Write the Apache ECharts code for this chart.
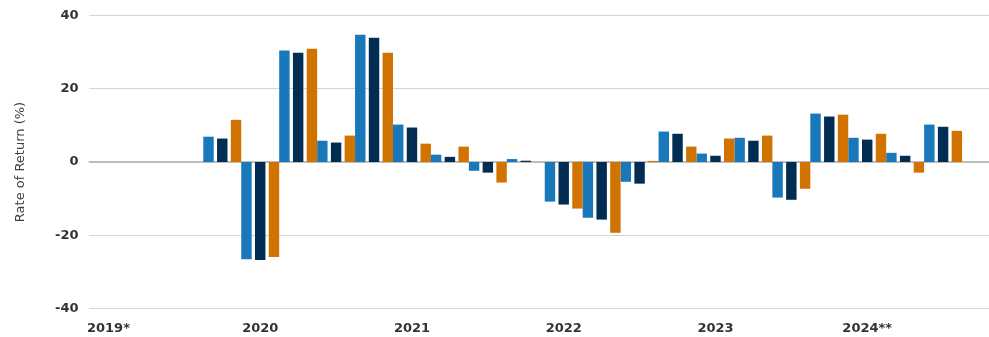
<!DOCTYPE html>
<html>
<head>
<meta charset="utf-8">
<script src="https://cdn.jsdelivr.net/npm/echarts@6/dist/echarts.min.js"></script>
<style>
  html, body { margin: 0; padding: 0; background: #ffffff; overflow: hidden; }
  /* plot area runs slightly past the right edge of the window */
  #chart { width: 1000px; height: 337px; }
</style>
</head>
<body>
<div id="chart"></div>
<script>
// Quarterly periods, 2019 Q1 through 2024 Q4
const quarters = [
  '2019Q1','2019Q2','2019Q3','2019Q4',
  '2020Q1','2020Q2','2020Q3','2020Q4',
  '2021Q1','2021Q2','2021Q3','2021Q4',
  '2022Q1','2022Q2','2022Q3','2022Q4',
  '2023Q1','2023Q2','2023Q3','2023Q4',
  '2024Q1','2024Q2','2024Q3','2024Q4'
];
// Year label shown under the first quarter of each year
const yearLabels = {
  '2019Q1': '2019*', '2020Q1': '2020', '2021Q1': '2021',
  '2022Q1': '2022', '2023Q1': '2023', '2024Q1': '2024**'
};

// Quarterly rate of return (%)
const seriesA = [null, null, null, 6.9, -26.5, 30.4, 5.8, 34.7, 10.2, 2.0, -2.4, 0.8, -10.8, -15.2, -5.4, 8.3, 2.3, 6.6, -9.7, 13.2, 6.6, 2.5, 10.2, null];
const seriesB = [null, null, null, 6.4, -26.7, 29.8, 5.3, 33.9, 9.4, 1.4, -2.9, 0.35, -11.6, -15.7, -5.9, 7.7, 1.7, 5.8, -10.3, 12.4, 6.1, 1.7, 9.6, null];
const seriesC = [null, null, null, 11.5, -25.9, 30.9, 7.2, 29.8, 5.0, 4.2, -5.6, 0.0, -12.7, -19.3, 0.3, 4.2, 6.4, 7.2, -7.3, 12.9, 7.7, -2.9, 8.5, null];

const colors = ['#1878ba', '#012d52', '#d17300'];
const fontFamily = '"DejaVu Sans", sans-serif';

const chart = echarts.init(document.getElementById('chart'), null, { renderer: 'canvas' });

function bar(name, data, color) {
  return {
    name: name,
    type: 'bar',
    data: data,
    itemStyle: { color: color },
    barGap: '32%',
    barCategoryGap: '0%'
  };
}

chart.setOption({
  animation: false,
  backgroundColor: '#ffffff',
  grid: { left: 89.5, right: 0, top: 15.3, bottom: 28.3, containLabel: false },
  xAxis: {
    type: 'category',
    data: quarters,
    axisLine: { show: true, onZero: true, lineStyle: { color: '#bdbdbd', width: 2 } },
    axisTick: { show: false },
    splitLine: { show: false },
    axisLabel: {
      interval: 0,
      margin: 13,
      color: '#333333',
      fontFamily: fontFamily,
      fontWeight: 'bold',
      fontSize: 13,
      formatter: function (v) { return yearLabels[v] || ''; }
    }
  },
  yAxis: {
    type: 'value',
    min: -40,
    max: 40,
    interval: 20,
    name: 'Rate of Return (%)',
    nameLocation: 'middle',
    nameGap: 62,
    nameRotate: 90,
    nameTextStyle: { color: '#404040', fontFamily: fontFamily, fontWeight: 'normal', fontSize: 13 },
    axisLine: { show: false },
    axisTick: { show: false },
    axisLabel: {
      margin: 11,
      color: '#333333',
      fontFamily: fontFamily,
      fontWeight: 'bold',
      fontSize: 13
    },
    splitLine: { show: true, lineStyle: { color: '#d4d4d4', width: 1 } }
  },
  series: [
    bar('A', seriesA, colors[0]),
    bar('B', seriesB, colors[1]),
    bar('C', seriesC, colors[2])
  ]
});
</script>
</body>
</html>
